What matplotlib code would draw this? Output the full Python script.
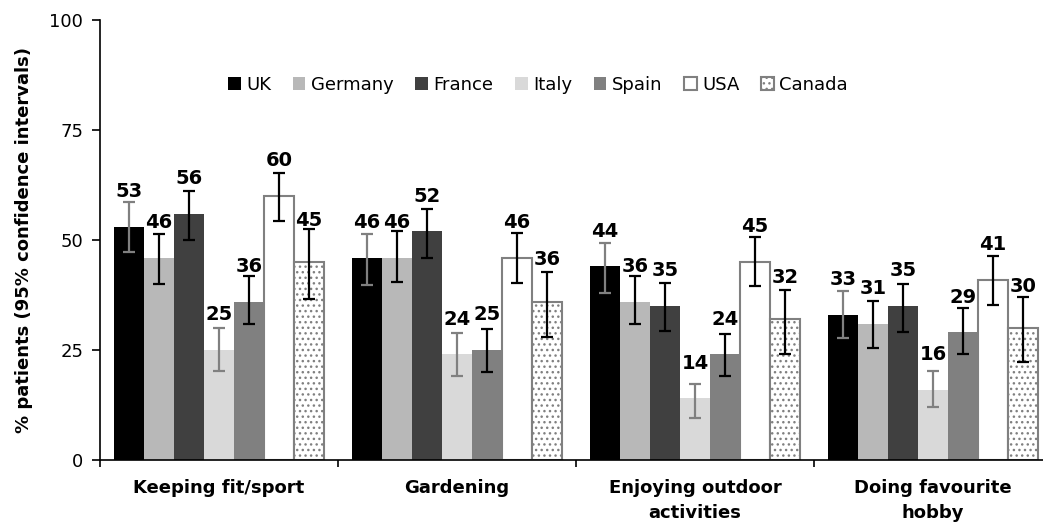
import numpy as np
import matplotlib
matplotlib.use('Agg')
from matplotlib import pyplot as plt

activities = ['Keeping fit/sport', 'Gardening', 'Enjoying outdoor\nactivities', 'Doing favourite\nhobby']
countries = ['UK', 'Germany', 'France', 'Italy', 'Spain', 'USA', 'Canada']

# % patients per country, one list per activity order above
uk      = [53, 46, 44, 33]
germany = [46, 46, 36, 31]
france  = [56, 52, 35, 35]
italy   = [25, 24, 14, 16]
spain   = [36, 25, 24, 29]
usa     = [60, 46, 45, 41]
canada  = [45, 36, 32, 30]

# 95% confidence interval bounds
uk_lo      = [47.3, 39.8, 38.0, 27.7]
uk_hi      = [58.6, 51.4, 49.4, 38.3]
germany_lo = [39.9, 40.5, 30.8, 25.5]
germany_hi = [51.3, 52.1, 41.9, 36.1]
france_lo  = [50.0, 45.8, 29.4, 29.2]
france_hi  = [61.1, 57.0, 40.2, 40.0]
italy_lo   = [20.3, 19.1, 9.6, 12.0]
italy_hi   = [30.1, 28.9, 17.3, 20.3]
spain_lo   = [30.8, 20.1, 19.2, 24.0]
spain_hi   = [41.8, 29.8, 28.7, 34.5]
usa_lo     = [54.4, 40.3, 39.6, 35.2]
usa_hi     = [65.3, 51.5, 50.6, 46.4]
canada_lo  = [36.7, 28.0, 24.2, 22.3]
canada_hi  = [52.5, 42.8, 38.6, 37.0]

values = [uk, germany, france, italy, spain, usa, canada]
lows = [uk_lo, germany_lo, france_lo, italy_lo, spain_lo, usa_lo, canada_lo]
highs = [uk_hi, germany_hi, france_hi, italy_hi, spain_hi, usa_hi, canada_hi]

fills = ['#000000', '#b8b8b8', '#404040', '#d9d9d9', '#808080', '#ffffff', '#ffffff']
edges = ['none', 'none', 'none', 'none', 'none', '#808080', '#808080']
hatches = [None, None, None, None, None, None, '...']
err_colors = ['#808080', 'k', 'k', '#808080', 'k', 'k', 'k']
label_offset = [8, 8, 8, 8, 8, 8, 9.5]

plt.rcParams['font.family'] = 'DejaVu Sans'
plt.rcParams['hatch.linewidth'] = 1.0

fig = plt.figure(figsize=(10.43, 5.26), dpi=100)
ax = fig.add_axes([100 / 1043, 66 / 526, 952 / 1043, 440 / 526])

x = np.arange(len(activities))
width = 0.126
for i, name in enumerate(countries):
    pos = x + (i - 3) * width
    vals = np.array(values[i], dtype=float)
    yerr = [vals - np.array(lows[i]), np.array(highs[i]) - vals]
    ax.bar(pos, vals, width, color=fills[i], edgecolor=edges[i],
           linewidth=1.5 if edges[i] != 'none' else 0, hatch=hatches[i], label=name, zorder=2)
    ax.errorbar(pos, vals, yerr=yerr, fmt='none', ecolor=err_colors[i],
                elinewidth=1.6, capsize=4.5, capthick=1.6, zorder=3)
    for px, v in zip(pos, vals):
        ax.text(px, v + label_offset[i], '{:d}'.format(int(v)), ha='center', va='center',
                fontsize=14, fontweight='bold', zorder=4)

ax.set_ylim(0, 100)
ax.set_xlim(-0.5, 3.5)
ax.set_yticks([0, 25, 50, 75, 100])
ax.tick_params(axis='y', labelsize=13, length=6, width=1.2, direction='out', pad=6)
ax.set_xticks([-0.5, 0.5, 1.5, 2.5])
ax.set_xticklabels([])
ax.tick_params(axis='x', which='major', length=5, width=1.2, direction='out')
ax.set_xticks(x, minor=True)
ax.set_xticklabels(activities, minor=True, fontsize=13, fontweight='bold', linespacing=1.5)
ax.tick_params(axis='x', which='minor', length=0, pad=14)
for side in ['top', 'right']:
    ax.spines[side].set_visible(False)
ax.spines['left'].set_linewidth(1.2)
ax.spines['bottom'].set_linewidth(1.2)

ax.set_ylabel('% patients (95% confidence intervals)', fontsize=13, fontweight='bold', labelpad=12)

ax.legend(loc='center', bbox_to_anchor=(0.46, 0.852), ncol=7, frameon=False, fontsize=13,
          handlelength=0.7, handleheight=0.7, handletextpad=0.3, columnspacing=1.2)

fig.savefig('out.png', dpi=100)
